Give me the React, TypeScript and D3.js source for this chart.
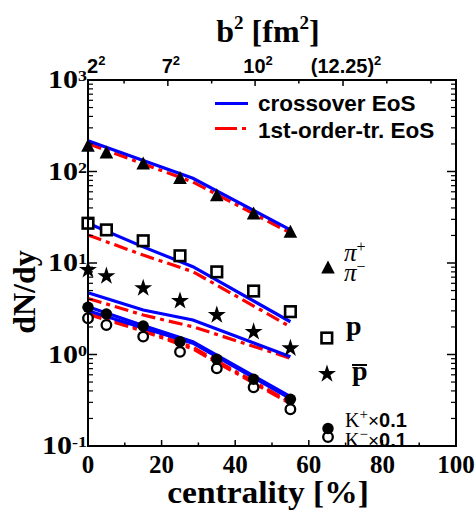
import React from 'react';
import * as d3 from 'd3';

// ---- data ----
const centrality = [0, 5, 15, 25, 35, 45, 55];
const piData = [184, 155, 118, 82, 53, 33.5, 21.1];
const pData = [27.2, 23, 17.5, 12, 8.0, 4.94, 2.94];
const pbarData = [8.4, 7.2, 5.3, 3.85, 2.7, 1.77, 1.17];
const kPlusData = [3.28, 2.77, 2.05, 1.38, 0.887, 0.536, 0.324];
const kMinusData = [2.49, 2.1, 1.57, 1.07, 0.706, 0.438, 0.252];

const modelCentrality = [0, 15, 28.5, 55];
const piCross = [217, 132, 84.3, 23.0];
const piFirst = [202, 121, 76.8, 21.3];
const pCross = [27.2, 15.0, 9.12, 2.28];
const pFirst = [20.2, 12.2, 8.04, 2.01];
const pbarCross = [4.73, 3.06, 2.38, 0.946];
const pbarFirst = [4.1, 2.7, 2.01, 0.91];
const kPlusCross = [3.33, 2.07, 1.38, 0.346];
const kMinusCross = [3.0, 1.95, 1.33, 0.33];
const kPlusFirst = [2.9, 1.85, 1.2, 0.3];
const kMinusFirst = [2.75, 1.8, 1.15, 0.29];

const xTicks = [0, 20, 40, 60, 80, 100];
const xMinorTicks = [10, 30, 50, 70, 90];
const yDecades = [0.1, 1, 10, 100, 1000];
const yExponents = ['-1', '0', '1', '2', '3'];
const topMajor = [0, 21.7, 45.4, 69.3];
const topLabels = ['2', '7', '10', '(12.25)'];
const topMinor = [9.8, 33.6, 57.3, 81.2, 93.2];

const W = 476, H = 510;
const X0 = 88, X1 = 456, Y0 = 80, Y1 = 446;
const SERIF = '"Liberation Serif", "Times New Roman", serif';
const SANS = '"Liberation Sans", Arial, sans-serif';
const BLUE = '#0000ff';
const RED = '#ff0000';
const DASH = '14,5,4,5';

export default function App() {
  const x = d3.scaleLinear().domain([0, 100]).range([X0, X1]);
  const y = d3.scaleLog().domain([0.1, 1000]).range([Y1, Y0]);
  const line = d3.line<number>().x((_, i) => x(modelCentrality[i])).y(d => y(d));

  const minorY: number[] = [];
  for (let k = 0; k < yDecades.length - 1; k++) {
    for (let m = 2; m <= 9; m++) minorY.push(yDecades[k] * m);
  }

  const starPath = d3.symbol(d3.symbolStar, 100)() as string;
  const triPath = 'M0,-8.5L6.8,4.5L-6.8,4.5Z';

  const crossSets = [piCross, pCross, pbarCross, kPlusCross, kMinusCross];
  const firstSets = [piFirst, pFirst, pbarFirst, kPlusFirst, kMinusFirst];

  return (
    <svg width={W} height={H} style={{ position: 'absolute', left: 0, top: 0, background: '#fff' }}>
      <rect x={0} y={0} width={W} height={H} fill="#fff" />
      {/* model lines */}
      {firstSets.map((s, i) => (
        <path key={'f' + i} d={line(s) as string} fill="none" stroke={RED} strokeWidth={3.2} strokeDasharray={DASH} />
      ))}
      {crossSets.map((s, i) => (
        <path key={'c' + i} d={line(s) as string} fill="none" stroke={BLUE} strokeWidth={3.2} />
      ))}

      {/* data markers */}
      {centrality.map((c, i) => (
        <path key={'t' + i} d={triPath} transform={`translate(${x(c)},${y(piData[i])})`} fill="#000" />
      ))}
      {centrality.map((c, i) => (
        <rect key={'s' + i} x={x(c) - 5.3} y={y(pData[i]) - 5.3} width={10.6} height={10.6} fill="#fff" stroke="#000" strokeWidth={2.6} />
      ))}
      {centrality.map((c, i) => (
        <path key={'st' + i} d={starPath} transform={`translate(${x(c)},${y(pbarData[i])})`} fill="#000" />
      ))}
      {centrality.map((c, i) => (
        <circle key={'om' + i} cx={x(c)} cy={y(kMinusData[i])} r={4.8} fill="#fff" stroke="#000" strokeWidth={2.3} />
      ))}
      {centrality.map((c, i) => (
        <circle key={'fp' + i} cx={x(c)} cy={y(kPlusData[i])} r={5.7} fill="#000" />
      ))}

      {/* frame */}
      <rect x={X0} y={Y0} width={X1 - X0} height={Y1 - Y0} fill="none" stroke="#000" strokeWidth={2} />

      {/* left/right ticks */}
      {yDecades.map(v => (
        <g key={'yd' + v}>
          <line x1={X0} x2={X0 + 9} y1={y(v)} y2={y(v)} stroke="#000" strokeWidth={1.5} />
          <line x1={X1} x2={X1 - 9} y1={y(v)} y2={y(v)} stroke="#000" strokeWidth={1.5} />
        </g>
      ))}
      {minorY.map(v => (
        <g key={'ym' + v}>
          <line x1={X0} x2={X0 + 5} y1={y(v)} y2={y(v)} stroke="#000" strokeWidth={1.2} />
          <line x1={X1} x2={X1 - 5} y1={y(v)} y2={y(v)} stroke="#000" strokeWidth={1.2} />
        </g>
      ))}
      {/* bottom ticks */}
      {xTicks.map(v => (
        <line key={'xt' + v} x1={x(v)} x2={x(v)} y1={Y1} y2={Y1 - 6} stroke="#000" strokeWidth={1.5} />
      ))}
      {xMinorTicks.map(v => (
        <line key={'xm' + v} x1={x(v)} x2={x(v)} y1={Y1} y2={Y1 - 3.5} stroke="#000" strokeWidth={1.5} />
      ))}
      {/* top ticks */}
      {topMajor.map(v => (
        <line key={'tt' + v} x1={x(v)} x2={x(v)} y1={Y0} y2={Y0 + 6} stroke="#000" strokeWidth={1.5} />
      ))}
      {topMinor.map(v => (
        <line key={'tm' + v} x1={x(v)} x2={x(v)} y1={Y0} y2={Y0 + 3.5} stroke="#000" strokeWidth={1.5} />
      ))}

      {/* y tick labels */}
      {yDecades.map((v, i) => (
        <g key={'yl' + v} transform={`translate(${X0 - 1},${y(v) + 8}) scale(1.2,1)`}>
          <text x={0} y={0} textAnchor="end" fontFamily={SERIF} fontWeight="bold" fontSize={25}>
            10<tspan dy={-7} fontSize={15}>{yExponents[i]}</tspan>
          </text>
        </g>
      ))}
      {/* x tick labels */}
      {xTicks.map(v => (
        <text key={'xl' + v} x={x(v)} y={473} textAnchor="middle" fontFamily={SERIF} fontWeight="bold" fontSize={25}>
          {v}
        </text>
      ))}
      {/* top tick labels */}
      {topMajor.map((v, i) => (
        <text key={'tl' + v} x={i === 0 ? X0 - 1 : x(v) + 3} y={73} textAnchor={i === 0 ? 'start' : 'middle'}
          fontFamily={SANS} fontWeight="bold" fontSize={20}>
          {topLabels[i]}<tspan dy={-8} fontSize={13}>2</tspan>
        </text>
      ))}

      {/* axis titles */}
      <text x={268} y={42} textAnchor="middle" fontFamily={SERIF} fontWeight="bold" fontSize={32}>
        b<tspan dy={-13} fontSize={19}>2</tspan><tspan dy={13}> [fm</tspan><tspan dy={-13} fontSize={19}>2</tspan><tspan dy={13}>]</tspan>
      </text>
      <g transform="translate(268,503) scale(1.08,1)">
        <text x={0} y={0} textAnchor="middle" fontFamily={SERIF} fontWeight="bold" fontSize={31}>
          centrality [%]
        </text>
      </g>
      <text transform="translate(35,292) rotate(-90)" textAnchor="middle" fontFamily={SERIF} fontWeight="bold" fontSize={32}>
        dN/dy
      </text>

      {/* model legend */}
      <line x1={215} x2={248} y1={103.5} y2={103.5} stroke={BLUE} strokeWidth={3.2} />
      <text x={258} y={110.5} fontFamily={SANS} fontWeight="bold" fontSize={22.5}>crossover EoS</text>
      <line x1={215} x2={248} y1={128.5} y2={128.5} stroke={RED} strokeWidth={3.2} strokeDasharray="22,5,4,5" />
      <text x={258} y={137.5} fontFamily={SANS} fontWeight="bold" fontSize={22.5}>1st-order-tr. EoS</text>

      {/* particle legend */}
      <path d={triPath} transform="translate(328,269)" fill="#000" />
      <text x={344} y={261} fontFamily={SERIF} fontStyle="italic" fontSize={25}>π<tspan dy={-9} fontSize={16} fontStyle="normal">+</tspan></text>
      <text x={344} y={281} fontFamily={SERIF} fontStyle="italic" fontSize={25}>π<tspan dy={-9} fontSize={16} fontStyle="normal">−</tspan></text>

      <rect x={321.5} y={332.7} width={10.6} height={10.6} fill="#fff" stroke="#000" strokeWidth={2.6} />
      <text x={346} y={335} fontFamily={SERIF} fontWeight="bold" fontSize={28}>p</text>

      <path d={starPath} transform="translate(327,374)" fill="#000" />
      <text x={352} y={380} fontFamily={SERIF} fontWeight="bold" fontSize={28}>p</text>
      <line x1={352} x2={367} y1={365} y2={365} stroke="#000" strokeWidth={2} />

      <circle cx={328} cy={437} r={4.8} fill="#fff" stroke="#000" strokeWidth={2.3} />
      <circle cx={328} cy={428.5} r={5.7} fill="#000" />
      <text x={345} y={427} fontFamily={SERIF} fontSize={20}>
        K<tspan dy={-8} fontSize={15}>+</tspan><tspan dy={8} fontFamily={SANS} fontSize={19}>×</tspan><tspan fontFamily={SANS} fontWeight="bold" fontSize={20}>0.1</tspan>
      </text>
      <text x={345} y={447} fontFamily={SERIF} fontSize={20}>
        K<tspan dy={-8} fontSize={15}>−</tspan><tspan dy={8} fontFamily={SANS} fontSize={19}>×</tspan><tspan fontFamily={SANS} fontWeight="bold" fontSize={20}>0.1</tspan>
      </text>
    </svg>
  );
}
